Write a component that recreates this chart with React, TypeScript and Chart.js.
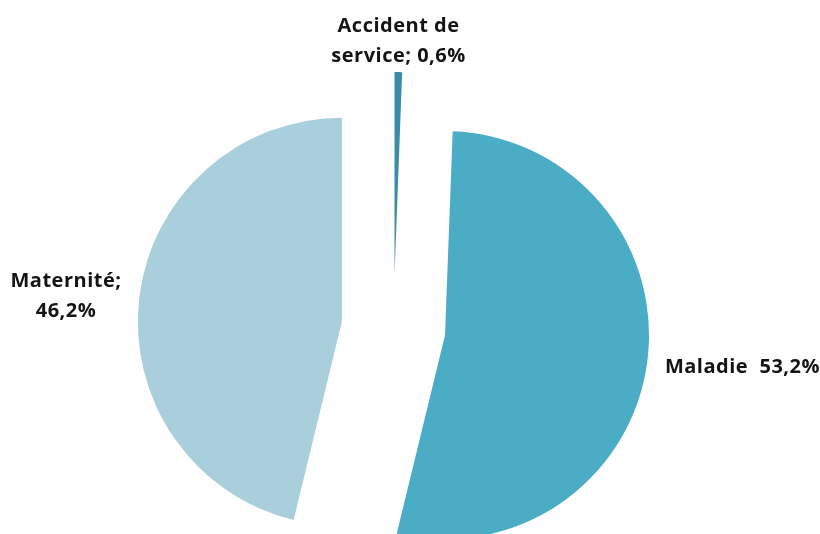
import { useEffect, useRef } from "react";
import { Chart, registerables } from "chart.js";

Chart.register(...registerables);

const categories = ["Accident de service", "Maladie", "Maternité"];
const values = [0.6, 53.2, 46.2];
const labelTemplates = ["Accident de\nservice; {v}", "Maladie  {v}", "Maternité;\n{v}"];
const colors = ["#3A8DA5", "#4BACC6", "#A9CEDC"];

const fmt = (v: number) => v.toFixed(1).replace(".", ",") + "%";

const explodePlugin = {
  id: "explode",
  beforeDatasetDraw(chart: any, args: any, opts: any) {
    const ctx = chart.ctx;
    const d = opts.distance || 0;
    args.meta.data.forEach((arc: any) => {
      const mid = (arc.startAngle + arc.endAngle) / 2;
      ctx.save();
      ctx.translate(Math.cos(mid) * d, Math.sin(mid) * d);
      arc.draw(ctx);
      ctx.restore();
    });
    return false;
  },
};

const labelPlugin = {
  id: "pieLabels",
  afterDatasetsDraw(chart: any, _args: any, opts: any) {
    const ctx = chart.ctx;
    const meta = chart.getDatasetMeta(0);
    const d = opts.distance || 0;
    ctx.save();
    ctx.font = opts.font;
    if ("letterSpacing" in ctx) ctx.letterSpacing = opts.letterSpacing;
    ctx.fillStyle = opts.color;
    ctx.textAlign = "center";
    ctx.textBaseline = "alphabetic";
    meta.data.forEach((arc: any, i: number) => {
      const mid = (arc.startAngle + arc.endAngle) / 2;
      const c = Math.cos(mid);
      const s = Math.sin(mid);
      const lines = labelTemplates[i].replace("{v}", fmt(values[i])).split("\n");
      const bw = Math.max(...lines.map((l) => ctx.measureText(l).width));
      const lh = opts.lineHeight;
      const cap = opts.capHeight;
      const n = lines.length;
      if (Math.abs(c) >= Math.abs(s)) {
        const r = arc.outerRadius + d + opts.sideGap;
        const ax = arc.x + c * r;
        const ay = arc.y + s * r;
        const bx = c > 0 ? ax + bw / 2 : ax - bw / 2;
        const blockH = cap + (n - 1) * lh;
        const first = ay - blockH / 2 + cap;
        lines.forEach((l, k) => ctx.fillText(l, bx, first + k * lh));
      } else {
        const r = arc.outerRadius + d + opts.topGap;
        const ax = arc.x + c * r;
        const ay = arc.y + s * r;
        const first = s < 0 ? ay - (n - 1) * lh : ay + cap;
        lines.forEach((l, k) => ctx.fillText(l, ax, first + k * lh));
      }
    });
    ctx.restore();
  },
};

export default function App() {
  const ref = useRef<HTMLCanvasElement>(null);
  useEffect(() => {
    if (!ref.current) return;
    const chart = new Chart(ref.current, {
      type: "pie",
      data: {
        labels: categories,
        datasets: [
          {
            data: values,
            backgroundColor: colors,
            borderWidth: 0,
            radius: 204,
          } as any,
        ],
      },
      options: {
        responsive: false,
        animation: false,
        layout: { padding: { left: 0, right: 33, top: 122, bottom: 0 } },
        plugins: {
          legend: { display: false },
          tooltip: { enabled: false },
          explode: { distance: 52 },
          pieLabels: {
            distance: 52,
            sideGap: 18,
            topGap: 10,
            lineHeight: 30,
            capHeight: 14,
            font: "bold 20px 'Open Sans'",
            letterSpacing: "0.5px",
            color: "#141414",
          },
        } as any,
      },
      plugins: [explodePlugin, labelPlugin],
    });
    return () => chart.destroy();
  }, []);
  return (
    <div style={{ position: "absolute", left: 0, top: 0, width: 820, height: 534, background: "#fff" }}>
      <canvas ref={ref} width={820} height={534} />
    </div>
  );
}
